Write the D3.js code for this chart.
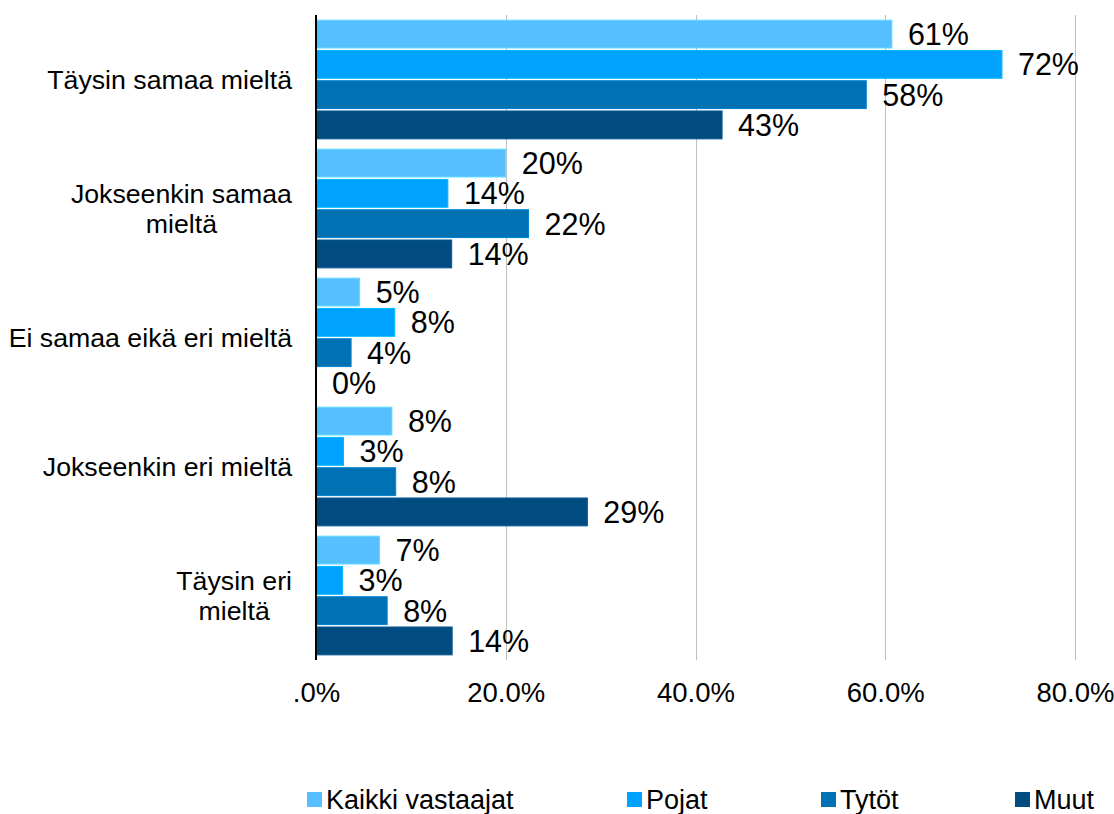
<!DOCTYPE html>
<html>
<head>
<meta charset="utf-8">
<script src="https://cdn.jsdelivr.net/npm/d3@7"></script>
<style>
  body { margin: 0; background: #fff; }
  text { font-family: "Liberation Sans", Arial, sans-serif; }
</style>
</head>
<body>
<svg id="chart"></svg>
<script>
// kategoriat (rivit ylhäältä alas)
const categories = [
  ["Täysin samaa mieltä"],
  ["Jokseenkin samaa", "mieltä"],
  ["Ei samaa eikä eri mieltä"],
  ["Jokseenkin eri mieltä"],
  ["Täysin eri", "mieltä"]
];
const seriesNames = ["Kaikki vastaajat", "Pojat", "Tytöt", "Muut"];
const kaikki = [60.7, 20.0, 4.6, 8.0, 6.7];
const pojat = [72.3, 13.9, 8.3, 2.9, 2.8];
const tytot = [58.0, 22.4, 3.7, 8.4, 7.5];
const muut = [42.8, 14.3, 0, 28.6, 14.35];
const tickValues = [0, 20, 40, 60, 80];
const colors = ["#56bfff", "#00a2ff", "#0072b4", "#004c80"];

const wSvg = 1114;
const hSvg = 814;
const margin = { top: 15, right: 39, bottom: 154, left: 316 };

const seriesValues = [kaikki, pojat, tytot, muut];

const svg = d3.select("#chart")
  .attr("width", wSvg)
  .attr("height", hSvg);

const x = d3.scaleLinear()
  .domain([0, 80])
  .range([margin.left, wSvg - margin.right]);

const y0 = d3.scaleBand()
  .domain(d3.range(categories.length))
  .range([margin.top, hSvg - margin.bottom]);

const y1 = d3.scaleBand()
  .domain(seriesNames)
  .range([0, y0.bandwidth()])
  .paddingInner(0.08)
  .paddingOuter(0.17);

// pystysuorat apuviivat
svg.append("g")
  .selectAll("line")
  .data(tickValues.filter(d => d > 0))
  .enter()
  .append("line")
  .attr("x1", d => Math.round(x(d)) + 0.5)
  .attr("x2", d => Math.round(x(d)) + 0.5)
  .attr("y1", margin.top)
  .attr("y2", hSvg - margin.bottom)
  .attr("stroke", "#bfbfbf")
  .attr("stroke-width", 1);

// x-akselin tekstit
const xAxis = d3.axisBottom(x)
  .tickValues(tickValues)
  .tickSize(0)
  .tickPadding(22)
  .tickFormat(d => d === 0 ? ".0%" : d.toFixed(1) + "%");

const gx = svg.append("g")
  .attr("transform", `translate(0, ${hSvg - margin.bottom})`)
  .call(xAxis);
gx.select(".domain").remove();
gx.selectAll("text")
  .attr("fill", "#000")
  .style("font-size", "27.5px")
  .style("font-family", "'Liberation Sans', Arial, sans-serif");

// palkit
const rows = [];
categories.forEach((c, ci) => {
  seriesNames.forEach((s, si) => {
    rows.push({ cat: ci, series: s, si: si, value: seriesValues[si][ci] });
  });
});

svg.append("g")
  .selectAll("rect")
  .data(rows)
  .enter()
  .append("rect")
  .attr("x", x(0))
  .attr("y", d => y0(d.cat) + y1(d.series))
  .attr("width", d => x(d.value) - x(0))
  .attr("height", y1.bandwidth())
  .attr("fill", d => colors[d.si])
  .attr("stroke", d => d.value > 0 ? d3.color(colors[d.si]).brighter(0.4) : "none")
  .attr("stroke-width", 1);

// arvot palkkien perään
svg.append("g")
  .selectAll("text")
  .data(rows)
  .enter()
  .append("text")
  .attr("x", d => x(d.value) + 16)
  .attr("y", d => y0(d.cat) + y1(d.series) + y1.bandwidth() / 2)
  .attr("dy", "0.36em")
  .style("font-size", "30.5px")
  .attr("fill", "#000")
  .text(d => Math.round(d.value) + "%");

// y-akseli (musta viiva)
svg.append("line")
  .attr("x1", x(0))
  .attr("x2", x(0))
  .attr("y1", margin.top)
  .attr("y2", hSvg - margin.bottom)
  .attr("stroke", "#000")
  .attr("stroke-width", 2);

// kategoriatekstit, monirivinen keskitetään
const catG = svg.append("g")
  .selectAll("g")
  .data(categories)
  .enter()
  .append("g");

catG.each(function (lines, i) {
  const g = d3.select(this);
  const lineH = 30;
  const cy = y0(i) + y0.bandwidth() / 2;
  const t = g.append("text")
    .style("font-size", "26.7px")
    .attr("fill", "#000")
    .attr("text-anchor", lines.length > 1 ? "middle" : "end");
  lines.forEach((l, li) => {
    t.append("tspan")
      .attr("x", 0)
      .attr("y", cy + (li - (lines.length - 1) / 2) * lineH)
      .attr("dy", "0.36em")
      .text(l);
  });
  if (lines.length > 1) {
    const w = t.node().getBBox().width;
    t.attr("transform", `translate(${292 - w / 2}, 0)`);
  } else {
    t.attr("transform", "translate(292, 0)");
  }
});

// selite
const legendX = [307, 627, 821, 1015];
const legend = svg.append("g")
  .selectAll("g")
  .data(seriesNames)
  .enter()
  .append("g")
  .attr("transform", (d, i) => `translate(${legendX[i]}, 792)`);

legend.append("rect")
  .attr("width", 15)
  .attr("height", 15)
  .attr("fill", (d, i) => colors[i]);

legend.append("text")
  .attr("x", 19)
  .attr("y", 7.5)
  .attr("dy", "0.36em")
  .style("font-size", "27px")
  .attr("fill", "#000")
  .text(d => d);
</script>
</body>
</html>
